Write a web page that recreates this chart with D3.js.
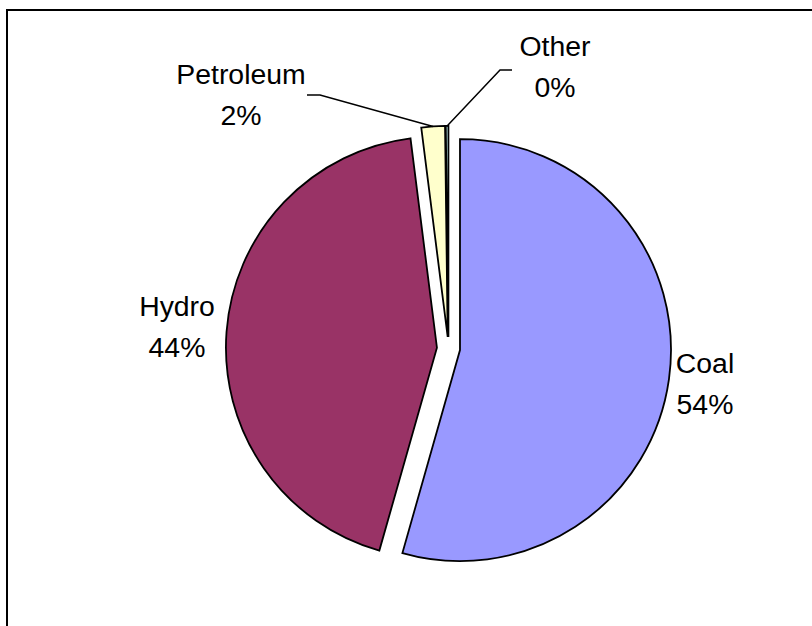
<!DOCTYPE html>
<html><head><meta charset="utf-8">
<script src="https://cdn.jsdelivr.net/npm/d3@7"></script>
<style>html,body{margin:0;padding:0;background:#fff;}svg{display:block;}</style>
</head><body>
<script>
const categories = ["Coal", "Hydro", "Petroleum", "Other"];
const values = [54.4, 43.6, 1.8, 0.2];
const percentLabels = ["54%", "44%", "2%", "0%"];
const colors = ["#9999FF", "#993366", "#FFFFCC", "#CCFFFF"];

const W = 812, H = 626;
const svg = d3.select("body").append("svg").attr("width", W).attr("height", H);

// chart frame (extends beyond the visible window)
svg.append("rect").attr("x", 7).attr("y", 10).attr("width", 900).attr("height", 700)
  .attr("fill", "#fff").attr("stroke", "#000").attr("stroke-width", 2);

const cx = 448.5, cy = 348.5, r = 211, explode = 11.6;
const data = categories.map((c, i) => ({ cat: c, value: values[i], label: percentLabels[i], color: colors[i] }));
const pie = d3.pie().value(d => d.value).sort(null).startAngle(0);
const arcs = pie(data);
const arc = d3.arc().innerRadius(0).outerRadius(r);

const g = svg.append("g").attr("transform", `translate(${cx},${cy})`);
g.selectAll("path").data(arcs).join("path")
  .attr("transform", d => {
    const m = (d.startAngle + d.endAngle) / 2;
    return `translate(${explode * Math.sin(m)},${-explode * Math.cos(m)})`;
  })
  .attr("d", arc)
  .attr("fill", d => d.data.color)
  .attr("stroke", "#000").attr("stroke-width", 1.8).attr("stroke-linejoin", "miter");

// label layout (center x, first baseline) and leader elbows
const labelLayout = {
  "Coal": { x: 705, y: 373 },
  "Hydro": { x: 177, y: 316 },
  "Petroleum": { x: 241, y: 84 },
  "Other": { x: 555, y: 56 }
};
const leaders = {
  "Petroleum": [[307, 95], [320, 95]],
  "Other": [[512, 70], [500, 70]]
};

arcs.forEach(d => {
  const m = (d.startAngle + d.endAngle) / 2;
  const ox = cx + explode * Math.sin(m), oy = cy - explode * Math.cos(m);
  if (leaders[d.data.cat]) {
    const pts = leaders[d.data.cat].slice();
    pts.push([ox + r * Math.sin(m), oy - r * Math.cos(m)]);
    svg.append("path").attr("d", d3.line()(pts))
      .attr("fill", "none").attr("stroke", "#000").attr("stroke-width", 1.5);
  }
  const L = labelLayout[d.data.cat];
  const t = svg.append("text").attr("text-anchor", "middle")
    .attr("font-family", "Liberation Sans, Arial, sans-serif").attr("font-size", 28.4).attr("fill", "#000");
  t.append("tspan").attr("x", L.x).attr("y", L.y).text(d.data.cat);
  t.append("tspan").attr("x", L.x).attr("y", L.y + 41).text(d.data.label);
});
</script>
</body></html>
